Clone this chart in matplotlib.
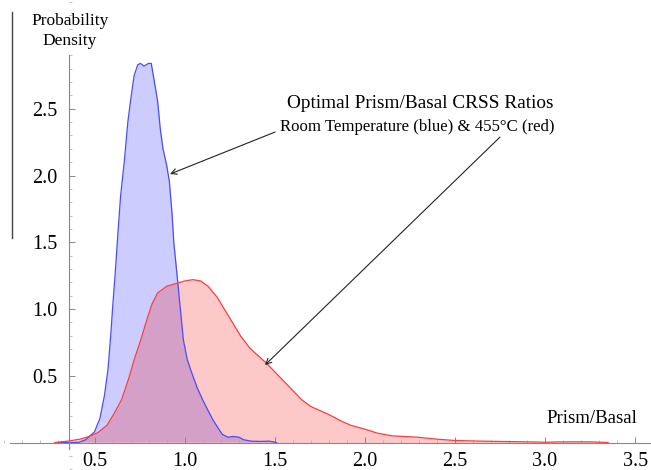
import matplotlib.pyplot as plt
import numpy as np
from matplotlib.ticker import MultipleLocator
from matplotlib.lines import Line2D

plt.rcParams['font.family'] = ['Liberation Serif', 'DejaVu Serif']

# room temperature (blue)
blue_x = [0.30, 0.41, 0.45, 0.50, 0.53, 0.555, 0.575, 0.59, 0.60, 0.615, 0.63, 0.645,
          0.665, 0.685, 0.70, 0.72, 0.74, 0.755, 0.775, 0.80, 0.815, 0.83, 0.85, 0.865,
          0.88, 0.90, 0.915, 0.93, 0.94, 0.957, 0.975, 0.993, 1.015, 1.04, 1.07, 1.10,
          1.13, 1.157, 1.185, 1.21, 1.24, 1.27, 1.30, 1.33, 1.37, 1.42, 1.47, 1.51]
blue_y = [0.0, 0.0, 0.02, 0.08, 0.18, 0.35, 0.55, 0.80, 1.00, 1.27, 1.57, 1.85,
          2.10, 2.40, 2.56, 2.75, 2.83, 2.84, 2.82, 2.84, 2.84, 2.72, 2.56, 2.35,
          2.20, 2.08, 1.96, 1.72, 1.50, 1.27, 1.02, 0.77, 0.62, 0.52, 0.41, 0.32,
          0.24, 0.17, 0.11, 0.06, 0.04, 0.045, 0.04, 0.02, 0.01, 0.008, 0.01, 0.0]

# 455 C (red)
red_x = [0.28, 0.35, 0.42, 0.48, 0.52, 0.57, 0.61, 0.65, 0.69, 0.72, 0.757, 0.795,
         0.82, 0.85, 0.90, 0.95, 1.00, 1.046, 1.09, 1.13, 1.18, 1.22, 1.265, 1.31,
         1.36, 1.40, 1.45, 1.50, 1.55, 1.60, 1.65, 1.70, 1.75, 1.80, 1.87, 1.92,
         2.00, 2.07, 2.15, 2.29, 2.40, 2.50, 2.65, 2.80, 2.93, 3.00, 3.10, 3.25, 3.35]
red_y = [0.0, 0.01, 0.025, 0.05, 0.075, 0.13, 0.22, 0.32, 0.48, 0.62, 0.77, 0.94,
         1.04, 1.12, 1.17, 1.19, 1.21, 1.22, 1.21, 1.17, 1.09, 1.00, 0.90, 0.80,
         0.71, 0.66, 0.60, 0.53, 0.46, 0.39, 0.32, 0.27, 0.24, 0.21, 0.16, 0.13,
         0.10, 0.07, 0.05, 0.04, 0.025, 0.015, 0.01, 0.007, 0.004, 0.002, 0.005, 0.005, 0.0]

fig = plt.figure(figsize=(6.51, 4.70), dpi=100)
ax = fig.add_axes([0, 0, 1, 1])

blue_fill = ax.fill_between(blue_x, blue_y, color='#ccccff', linewidth=0)
ax.fill_between(red_x, red_y, color='#fcc8c8', linewidth=0)
# overlap region: red area clipped to the blue area
overlap = ax.fill_between(red_x, red_y, color='#d4a0c8', linewidth=0)
overlap.set_clip_path(blue_fill.get_paths()[0], ax.transData)
ax.plot(blue_x, blue_y, color='#4a4aff', linewidth=0.9)
ax.plot(red_x, red_y, color='#ff3c3c', linewidth=0.9)

ax.set_xlim(-0.0244, 3.588)
ax.set_ylim(-0.206, 3.315)

# Mathematica-style crossing axes
for s in ['top', 'right']:
    ax.spines[s].set_visible(False)
ax.spines['bottom'].set_position(('data', 0))
ax.spines['bottom'].set_bounds(0.03, 3.6)
ax.spines['left'].set_position(('data', 0.358))
ax.spines['left'].set_bounds(-0.05, 2.9)
for s in ['bottom', 'left']:
    ax.spines[s].set_color('#888888')
    ax.spines[s].set_linewidth(0.8)

ax.xaxis.set_minor_locator(MultipleLocator(0.1))
ax.yaxis.set_minor_locator(MultipleLocator(0.1))
ax.set_xticks([0.5, 1.0, 1.5, 2.0, 2.5, 3.0, 3.5])
ax.set_yticks([0.5, 1.0, 1.5, 2.0, 2.5])
ax.tick_params(which='major', direction='in', length=4, width=0.7, color='#888888',
               labelsize=14.5, pad=8)
ax.tick_params(which='minor', direction='in', length=2, width=0.5, color='#aaaaaa')
ax.tick_params(axis='x', which='major', pad=7)
ax.xaxis.set_major_formatter(plt.FuncFormatter(lambda v, p: f'{v:.1f}'))
ax.yaxis.set_major_formatter(plt.FuncFormatter(lambda v, p: f'{v:.1f}'))

fig.text(70 / 651, 1 - 31 / 470, 'Probability\nDensity', ha='center', va='center',
         fontsize=12.5, linespacing=1.3)
ax.text(3.258, 0.18, 'Prism/Basal', ha='center', va='center', fontsize=13.5)

ax.text(2.306, 2.543, 'Optimal Prism/Basal CRSS Ratios', ha='center', va='center',
        fontsize=13.9)
ax.text(2.29, 2.363, 'Room Temperature (blue) & 455\u00b0C (red)', ha='center', va='center',
        fontsize=12.1)

arrow = dict(arrowstyle='->', color='#222222', lw=0.8, shrinkA=0, shrinkB=0)
ax.annotate('', xy=(0.919, 2.011), xytext=(1.502, 2.326), arrowprops=arrow)
ax.annotate('', xy=(1.446, 0.58), xytext=(2.75, 2.288), arrowprops=arrow)

fig.add_artist(Line2D([12 / 651, 12 / 651], [1 - 12 / 470, 1 - 238 / 470],
                      color='#444444', linewidth=1.0))

fig.savefig('out.png', dpi=100)
